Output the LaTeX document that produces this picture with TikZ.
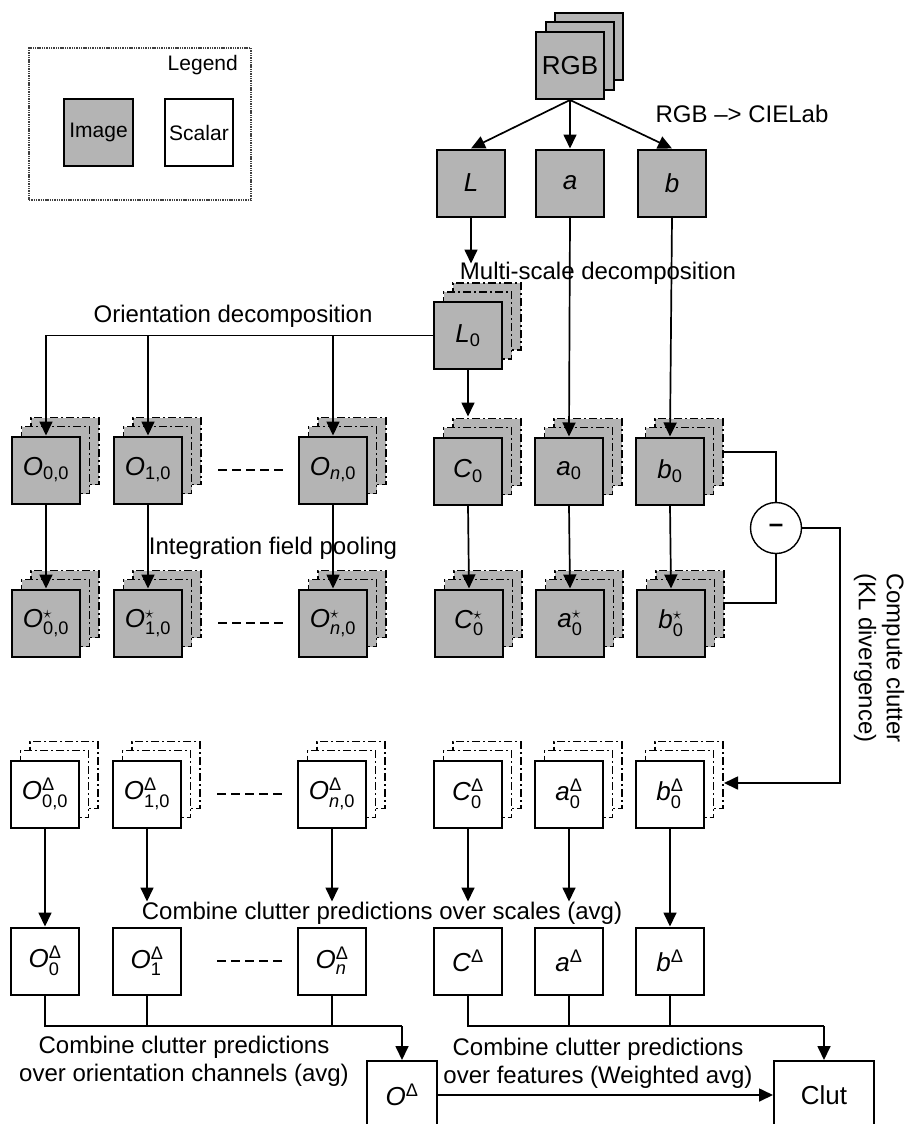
\documentclass[tikz,border=0pt]{standalone}
\usepackage{amsmath}
\usepackage{fontspec}
\setmainfont{Liberation Sans}
\usetikzlibrary{arrows.meta,calc}
\definecolor{fillgray}{RGB}{180,180,180}
\newcommand\txtfont{\fontsize{24}{28}\selectfont}
\newcommand\legfont{\fontsize{21}{25}\selectfont}
\newcommand\boxfont{\fontsize{26}{30}\selectfont}
\newcommand\lbl[3]{\textit{#1}\ensuremath{^{#3}_{#2}}}
\newcommand\lbs[2]{\textit{#1}\ensuremath{_{#2}}}
\newcommand\lbp[2]{\textit{#1}\ensuremath{^{#2}}}
\newcommand\stk[5]{%
  \node[#2,ghost] (#1-g2) at (#3+19,#4-19) {};
  \node[#2,ghost] (#1-g1) at (#3+9.5,#4-10) {};
  \node[#2] (#1) at (#3,#4) {#5};}
\begin{document}
\begin{tikzpicture}[x=1pt,y=-1pt,
  box/.style={draw, line width=2pt, minimum width=68pt, minimum height=67pt, inner sep=0pt, font=\boxfont},
  img/.style={box, fill=fillgray},
  sca/.style={box, fill=white},
  ghost/.style={line width=1.8pt, dash pattern=on 8pt off 3pt on 2pt off 3pt},
  line/.style={line width=1.7pt},
  arr/.style={line width=1.7pt, -{Triangle[length=14pt,width=13pt]}},
  txt/.style={font=\txtfont, inner sep=0pt, align=center},
  dashes/.style={line width=1.8pt, dash pattern=on 9pt off 5pt}]
\useasboundingbox (0,0) rectangle (907,1124);
\clip (0,0) rectangle (907,1124);

% legend
\node[draw, line width=2pt, black!75, dash pattern=on 1.4pt off 0.9pt, minimum width=222pt, minimum height=152pt] (legend) at (140,124) {};
\node[img, minimum width=69pt, font=\legfont] (limg) at (98.5,132.5) {Image};
\node[sca, font=\legfont] (lsca) at (199,132.5) {Scalar};
\node[anchor=east, font=\legfont, inner sep=0pt] (ltitle) at (238,65) {Legend};

% RGB
\node[img] (rgb-2) at (589,46.5) {};
\node[img] (rgb-1) at (579.5,56) {};
\node[img] (rgb) at (570,65.5) {RGB};
\node[img] (L) at (471,183) {\textit{L}};
\node[img] (a) at (570,183) {\textit{a}};
\node[img] (b) at (672,183) {\textit{b}};
\draw[arr] (rgb.south) -- (L.north);
\draw[arr] (rgb.south) -- (a.north);
\draw[arr] (rgb.south) -- (b.north);
\node[txt] (tlab) at (742,114) {RGB –> CIELab};

% L0
\stk{L0}{img}{468}{335.5}{\lbs{L}{\text{0}}}
\draw[arr] (L.south) -- ($(L.south)+(0,46)$);
\node[txt] (tms) at (598,273) {Multi-scale decomposition};
\node[txt] (tor) at (233,316) {Orientation decomposition};

% row 1
\stk{O00}{img}{46}{470}{\lbs{O}{\text{0,0}}}
\stk{O10}{img}{148}{470}{\lbs{O}{\text{1,0}}}
\stk{On0}{img}{333}{470}{\lbs{O}{\text{\textit{n},0}}}
\stk{C0}{img}{468}{471}{\lbs{C}{\text{0}}}
\stk{a0}{img}{569}{471}{\lbs{a}{\text{0}}}
\stk{b0}{img}{670}{471}{\lbs{b}{\text{0}}}
\draw[arr] (L0.west) -| (O00.north);
\draw[arr] (L0.west -| O10.north) -- (O10.north);
\draw[arr] (L0.west -| On0.north) -- (On0.north);
\draw[arr] (L0.south) -- ($(C0.north)+(0,-20)$);
\draw[arr] (a.south) -- (a0.north);
\draw[arr] (b.south) -- (b0.north);
\draw[dashes] ($(O10.east)+(35,0)$) -- ($(On0.west)+(-15,0)$);

% row 2
\stk{S00}{img}{46}{623}{\lbl{O}{\text{0,0}}{\star}}
\stk{S10}{img}{148}{623}{\lbl{O}{\text{1,0}}{\star}}
\stk{Sn0}{img}{333}{623}{\lbl{O}{\text{\textit{n},0}}{\star}}
\stk{SC0}{img}{469}{623}{\lbl{C}{\text{0}}{\star}}
\stk{Sa0}{img}{570}{623}{\lbl{a}{\text{0}}{\star}}
\stk{Sb0}{img}{671}{623}{\lbl{b}{\text{0}}{\star}}
\draw[arr] (O00.south) -- (S00.north);
\draw[arr] (O10.south) -- (S10.north);
\draw[arr] (On0.south) -- (Sn0.north);
\draw[arr] (C0.south) -- (SC0.north);
\draw[arr] (a0.south) -- (Sa0.north);
\draw[arr] (b0.south) -- (Sb0.north);
\draw[dashes] ($(S10.east)+(35,0)$) -- ($(Sn0.west)+(-15,0)$);
\node[txt] (tint) at (273,548) {Integration field pooling};

% row 3
\stk{D1}{sca}{45}{794}{\lbl{O}{\text{0,0}}{\text{Δ}}}
\stk{D2}{sca}{147}{794}{\lbl{O}{\text{1,0}}{\text{Δ}}}
\stk{D3}{sca}{332}{794}{\lbl{O}{\text{\textit{n},0}}{\text{Δ}}}
\stk{D4}{sca}{468}{794}{\lbl{C}{\text{0}}{\text{Δ}}}
\stk{D5}{sca}{569}{794}{\lbl{a}{\text{0}}{\text{Δ}}}
\stk{D6}{sca}{670}{794}{\lbl{b}{\text{0}}{\text{Δ}}}
\draw[dashes] ($(D2.east)+(35,0)$) -- ($(D3.west)+(-15,0)$);

% subtraction
\node[draw, circle, line width=1.4pt, minimum size=51pt, inner sep=0pt, font=\boxfont\bfseries] (minus) at (776,528) {–};
\draw[line] ($(b0.east)+(19,-19)$) -| (minus.north);
\draw[line] (minus.south) |- ($(Sb0.east)+(19,-20)$);
\draw[arr] (minus.east) -- ++(38,0) coordinate (kl) |- ($(D6.east)+(19,-11)$);
\node[txt, rotate=-90] (tkl) at (879,658) {Compute clutter\\(KL divergence)};

% row 4
\node[sca] (E1) at (45,961) {\lbl{O}{\text{0}}{\text{Δ}}};
\node[sca] (E2) at (147,961) {\lbl{O}{\text{1}}{\text{Δ}}};
\node[sca] (E3) at (332,961) {\lbl{O}{\text{\textit{n}}}{\text{Δ}}};
\node[sca] (E4) at (468,961) {\lbp{C}{\text{Δ}}};
\node[sca] (E5) at (569,961) {\lbp{a}{\text{Δ}}};
\node[sca] (E6) at (670,961) {\lbp{b}{\text{Δ}}};
\draw[dashes] ($(E2.east)+(35,0)$) -- ($(E3.west)+(-15,0)$);
\draw[arr] (D1.south) -- (E1.north);
\draw[arr] (D2.south) -- ($(E2.north)+(0,-25)$);
\draw[arr] (D3.south) -- ($(E3.north)+(0,-25)$);
\draw[arr] (D4.south) -- ($(E4.north)+(0,-25)$);
\draw[arr] (D5.south) -- ($(E5.north)+(0,-25)$);
\draw[arr] (D6.south) -- (E6.north);
\node[txt] (tsc) at (382,913) {Combine clutter predictions over scales (avg)};

% bottom
\node[sca, minimum width=70pt, minimum height=68pt] (Osum) at (402,1095) {\lbp{O}{\text{Δ}}};
\node[sca, minimum width=100pt, minimum height=68pt] (clut) at (824,1095) {Clut};
\coordinate (jO) at ($(Osum.north)+(0,-34)$);
\coordinate (jF) at ($(clut.north)+(0,-34)$);
\draw[line] (E1.south) |- (jO);
\draw[arr] (jO) -- (Osum.north);
\draw[line] (E2.south) -- (E2.south |- jO);
\draw[line] (E3.south) -- (E3.south |- jO);
\draw[line] (E4.south) |- (jF);
\draw[arr] (jF) -- (clut.north);
\draw[line] (E5.south) -- (E5.south |- jF);
\draw[line] (E6.south) -- (E6.south |- jF);
\draw[arr] (Osum.east) -- (clut.west);
\node[txt] (tori) at (184,1061) {Combine clutter predictions\\over orientation channels (avg)};
\node[txt] (tfeat) at (598,1063) {Combine clutter predictions\\over features (Weighted avg)};
\end{tikzpicture}
\end{document}
